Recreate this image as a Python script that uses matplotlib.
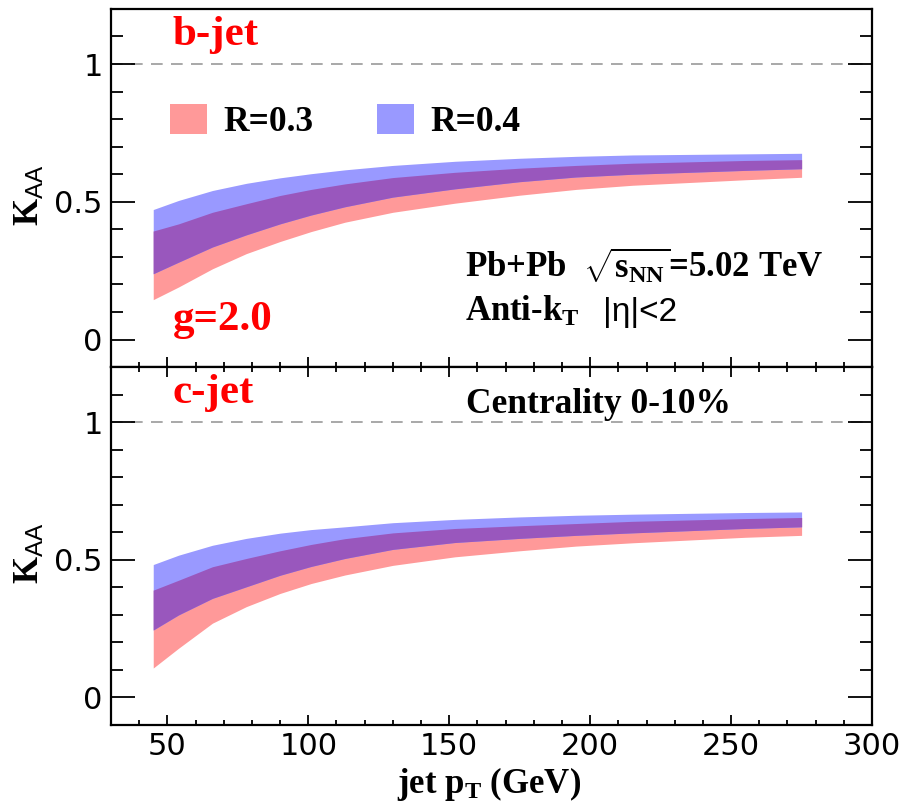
import numpy as np
import matplotlib.pyplot as plt
from matplotlib.patches import Patch
from matplotlib.ticker import MultipleLocator

plt.rcParams['mathtext.fontset'] = 'custom'
plt.rcParams['mathtext.rm'] = 'Liberation Serif:bold'
plt.rcParams['mathtext.bf'] = 'Liberation Serif:bold'
plt.rcParams['mathtext.it'] = 'Liberation Serif:bold'
plt.rcParams['mathtext.sf'] = 'Liberation Sans'

# ---------------- data ----------------
pt = [45, 54, 66, 78, 90, 101, 113, 130, 152, 175, 195, 215, 255, 275]

# b-jet
b_r03_lo = [0.145, 0.191, 0.257, 0.312, 0.356, 0.392, 0.426, 0.462, 0.495, 0.524, 0.545, 0.560, 0.580, 0.589]
b_r03_hi = [0.394, 0.420, 0.462, 0.493, 0.523, 0.545, 0.565, 0.588, 0.607, 0.622, 0.632, 0.640, 0.650, 0.653]
b_r04_lo = [0.239, 0.281, 0.336, 0.380, 0.420, 0.452, 0.482, 0.517, 0.547, 0.573, 0.590, 0.600, 0.614, 0.620]
b_r04_hi = [0.472, 0.505, 0.541, 0.567, 0.587, 0.602, 0.616, 0.632, 0.647, 0.658, 0.665, 0.670, 0.674, 0.676]

# c-jet
c_r03_lo = [0.107, 0.179, 0.270, 0.330, 0.378, 0.414, 0.445, 0.480, 0.511, 0.533, 0.550, 0.562, 0.582, 0.589]
c_r03_hi = [0.390, 0.426, 0.475, 0.505, 0.533, 0.556, 0.577, 0.598, 0.614, 0.624, 0.632, 0.640, 0.650, 0.654]
c_r04_lo = [0.245, 0.300, 0.360, 0.402, 0.444, 0.476, 0.505, 0.538, 0.563, 0.578, 0.589, 0.598, 0.614, 0.620]
c_r04_hi = [0.483, 0.517, 0.553, 0.578, 0.597, 0.610, 0.620, 0.635, 0.647, 0.656, 0.662, 0.666, 0.672, 0.674]

labels = ['R=0.3', 'R=0.4']
PINK = '#ff9999'
BLUE = '#9999ff'
PURPLE = '#9957bd'
RED = '#ff0000'
SERIF = 'Liberation Serif'

fig = plt.figure(figsize=(9.17, 8.07), dpi=100)
ax1 = fig.add_axes([0.121, 0.545, 0.830, 0.444])
ax2 = fig.add_axes([0.121, 0.1016, 0.830, 0.4434], sharex=ax1)


def draw_bands(ax, lo3, hi3, lo4, hi4):
    x = np.array(pt)
    lo3, hi3, lo4, hi4 = map(np.array, (lo3, hi3, lo4, hi4))
    ax.fill_between(x, lo3, hi3, color=PINK, lw=0)
    ax.fill_between(x, lo4, hi4, color=BLUE, lw=0)
    ax.fill_between(x, np.maximum(lo3, lo4), np.minimum(hi3, hi4), color=PURPLE, lw=0)


def style(ax, top_ticks):
    ax.set_xlim(30, 300)
    ax.set_ylim(-0.1, 1.2)
    ax.axhline(1, color='#9a9a9a', lw=1.2, ls=(0, (7, 5)), zorder=0)
    ax.yaxis.set_major_locator(MultipleLocator(0.5))
    ax.yaxis.set_minor_locator(MultipleLocator(0.1))
    ax.xaxis.set_major_locator(MultipleLocator(50))
    ax.xaxis.set_minor_locator(MultipleLocator(10))
    ax.yaxis.set_major_formatter(plt.FuncFormatter(lambda v, p: '%g' % v))
    ax.tick_params(axis='y', which='major', direction='in', length=17, width=1.3,
                   left=True, right=True, labelsize=22, pad=6)
    ax.tick_params(axis='y', which='minor', direction='in', length=8.5, width=1.3,
                   left=True, right=True)
    ax.tick_params(axis='x', which='major', direction='in', length=7, width=1.3,
                   bottom=True, top=top_ticks, labelsize=22, pad=5)
    ax.tick_params(axis='x', which='minor', direction='in', length=3.5, width=1.3,
                   bottom=True, top=top_ticks)
    for s in ax.spines.values():
        s.set_linewidth(1.6)
    ax.set_ylabel(r'K$_{\mathsf{AA}}$', fontsize=25, fontweight='bold', family=SERIF)
    ax.yaxis.set_label_coords(-0.084, 0.48)


# ---------------- top panel: b-jet ----------------
draw_bands(ax1, b_r03_lo, b_r03_hi, b_r04_lo, b_r04_hi)
style(ax1, False)
ax1.tick_params(axis='x', labelbottom=False)
ax1.text(51.8, 1.07, 'b-jet', color=RED, fontsize=31, fontweight='bold', family=SERIF)
ax1.text(51.8, 0.034, 'g=2.0', color=RED, fontsize=31, fontweight='bold', family=SERIF)
ax1.text(155.7, 0.226, r'Pb+Pb  $\sqrt{s_{\rm NN}}$=5.02 TeV', fontsize=25,
         fontweight='bold', family=SERIF)
ax1.text(155.7, 0.067, r'Anti-k$_{\rm T}$', fontsize=25, fontweight='bold', family=SERIF)
ax1.text(204.5, 0.067, '|η|<2', fontsize=24, family='Liberation Sans')
handles = [Patch(facecolor=PINK, edgecolor='none'), Patch(facecolor=BLUE, edgecolor='none')]
ax1.legend(handles, labels, loc='center left', bbox_to_anchor=(0.0775, 0.686),
           ncol=2, frameon=False, borderpad=0, borderaxespad=0,
           handlelength=1.05, handleheight=0.95, handletextpad=0.45, columnspacing=1.8,
           prop={'family': SERIF, 'weight': 'bold', 'size': 25.5})

# ---------------- bottom panel: c-jet ----------------
draw_bands(ax2, c_r03_lo, c_r03_hi, c_r04_lo, c_r04_hi)
style(ax2, True)
ax2.text(51.8, 1.071, 'c-jet', color=RED, fontsize=31, fontweight='bold', family=SERIF)
ax2.text(156, 1.035, 'Centrality 0-10%', fontsize=25.5, fontweight='bold', family=SERIF)
ax2.set_xlabel(r'jet p$_{\rm T}$ (GeV)', fontsize=25, fontweight='bold', family=SERIF)
ax2.xaxis.set_label_coords(0.497, -0.112)

fig.savefig('out.png', dpi=100)
